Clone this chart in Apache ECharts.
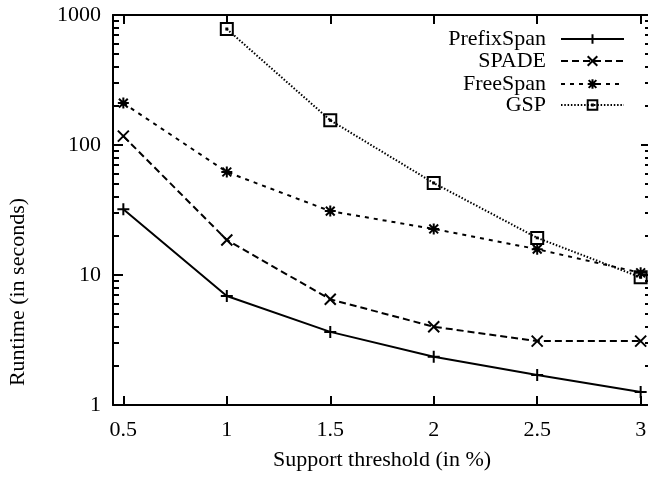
<!DOCTYPE html>
<html>
<head>
<meta charset="utf-8">
<script src="https://cdn.jsdelivr.net/npm/echarts@6/dist/echarts.min.js"></script>
<style>html,body{margin:0;padding:0;background:#fff;}#c{width:648px;height:479px;}</style>
</head>
<body>
<div id="c"></div>
<script>
// ---- data ----
const supportThreshold = [0.5, 1, 1.5, 2, 2.5, 3];
const prefixSpan = [32, 6.9, 3.65, 2.35, 1.7, 1.26];
const spade = [117, 18.6, 6.5, 4.0, 3.1, 3.1];
const freeSpan = [210, 62, 31, 22.6, 15.8, 10.4];
const gsp = [null, 780, 155, 51, 19.3, 9.6];
const seriesNames = ['PrefixSpan', 'SPADE', 'FreeSpan', 'GSP'];
const xTickValues = [0.5, 1, 1.5, 2, 2.5, 3];
const yMajorTicks = [1, 10, 100, 1000];
const yMinorTicks = [2,3,4,5,6,7,8,9,20,30,40,50,60,70,80,90,200,300,400,500,600,700,800,900];

const FONT = "'Liberation Serif','Times New Roman',serif";
const BLACK = '#000';

function pairs(vals) {
  return supportThreshold.map((x, i) => [x, vals[i]]).filter(p => p[1] != null);
}

const symPlus = 'path://M5,0V10M0,5H10';
const symCross = 'path://M0,0L10,10M10,0L0,10';
const symStar = 'path://M5,0V10M0,5H10M1,1L9,9M9,1L1,9';
const symBox = 'path://M0,0H10V10H0ZM4.6,4.6H5.4V5.4H4.6Z';

function mkSeries(name, vals, symbol, size, dash) {
  return {
    name: name,
    type: 'line',
    data: pairs(vals),
    xAxisIndex: 0,
    yAxisIndex: 0,
    symbol: symbol,
    symbolSize: size,
    showAllSymbol: true,
    itemStyle: { color: 'none', borderColor: BLACK, borderWidth: 2 },
    lineStyle: { color: BLACK, width: 2, type: dash === 'solid' ? 'solid' : (dash === 'dot' ? [1.5, 1.8] : dash) },
    emphasis: { disabled: true },
    z: 5
  };
}

const series = [
  mkSeries(seriesNames[0], prefixSpan, symPlus, 12, 'solid'),
  mkSeries(seriesNames[1], spade, symCross, 11, [7, 4]),
  mkSeries(seriesNames[2], freeSpan, symStar, 11, [4, 5]),
  mkSeries(seriesNames[3], gsp, symBox, 12, 'dot')
];

const legendTops = [28, 50, 73, 94];
const legends = seriesNames.map((n, i) => ({
  data: [n],
  right: 23,
  top: legendTops[i],
  orient: 'vertical',
  align: 'right',
  padding: 0,
  itemWidth: 63,
  itemHeight: 12,
  selectedMode: false,
  textStyle: { fontFamily: FONT, fontSize: 22, color: BLACK, padding: [0, 10, 0, 0] }
}));

const log10 = v => Math.log(v) / Math.LN10;
const minorLogPos = yMinorTicks.map(log10);

function minorAxis(pos) {
  return {
    type: 'value', min: 0, max: 3, position: pos,
    axisLine: { show: false, onZero: false },
    axisTick: { show: true, inside: true, length: 6, lineStyle: { color: BLACK, width: 2 }, customValues: minorLogPos },
    axisLabel: { show: true, customValues: minorLogPos, formatter: () => '', color: 'transparent' },
    splitLine: { show: false }
  };
}

const option = {
  animation: false,
  backgroundColor: '#fff',
  legend: legends,
  grid: { left: 113, right: -3, top: 15, bottom: 74, containLabel: false, outerBoundsMode: 'none' },
  xAxis: [
    {
      type: 'value', min: 0.45, max: 3.05, position: 'bottom',
      axisLine: { show: true, onZero: false, lineStyle: { color: BLACK, width: 2 } },
      axisTick: { show: true, inside: true, length: 9, lineStyle: { color: BLACK, width: 2 }, customValues: xTickValues },
      axisLabel: { show: true, color: BLACK, fontFamily: FONT, fontSize: 22, margin: 14, customValues: xTickValues },
      splitLine: { show: false },
      name: 'Support threshold (in %)', nameLocation: 'middle', nameGap: 44,
      nameTextStyle: { fontFamily: FONT, fontSize: 22, color: BLACK }
    },
    {
      type: 'value', min: 0.45, max: 3.05, position: 'top',
      axisLine: { show: true, onZero: false, lineStyle: { color: BLACK, width: 2 } },
      axisTick: { show: true, inside: true, length: 9, lineStyle: { color: BLACK, width: 2 }, customValues: xTickValues },
      axisLabel: { show: false },
      splitLine: { show: false }
    }
  ],
  yAxis: [
    {
      type: 'log', logBase: 10, min: 1, max: 1000, position: 'left',
      axisLine: { show: true, onZero: false, lineStyle: { color: BLACK, width: 2 } },
      axisTick: { show: true, inside: true, length: 10, lineStyle: { color: BLACK, width: 2 } },
      axisLabel: { show: true, color: BLACK, fontFamily: FONT, fontSize: 22, margin: 12, formatter: v => String(Math.round(v)) },
      splitLine: { show: false },
      minorTick: { show: false },
      name: 'Runtime (in seconds)', nameLocation: 'middle', nameGap: 84, nameRotate: 90,
      nameTextStyle: { fontFamily: FONT, fontSize: 22, color: BLACK, padding: [0, 164, 0, 0] }
    },
    {
      type: 'log', logBase: 10, min: 1, max: 1000, position: 'right',
      axisLine: { show: true, onZero: false, lineStyle: { color: BLACK, width: 2 } },
      axisTick: { show: true, inside: true, length: 10, lineStyle: { color: BLACK, width: 2 } },
      axisLabel: { show: false },
      splitLine: { show: false }
    },
    minorAxis('left'),
    minorAxis('right')
  ],
  series: series
};

const chart = echarts.init(document.getElementById('c'), null, { renderer: 'canvas' });
chart.setOption(option);
</script>
</body>
</html>
